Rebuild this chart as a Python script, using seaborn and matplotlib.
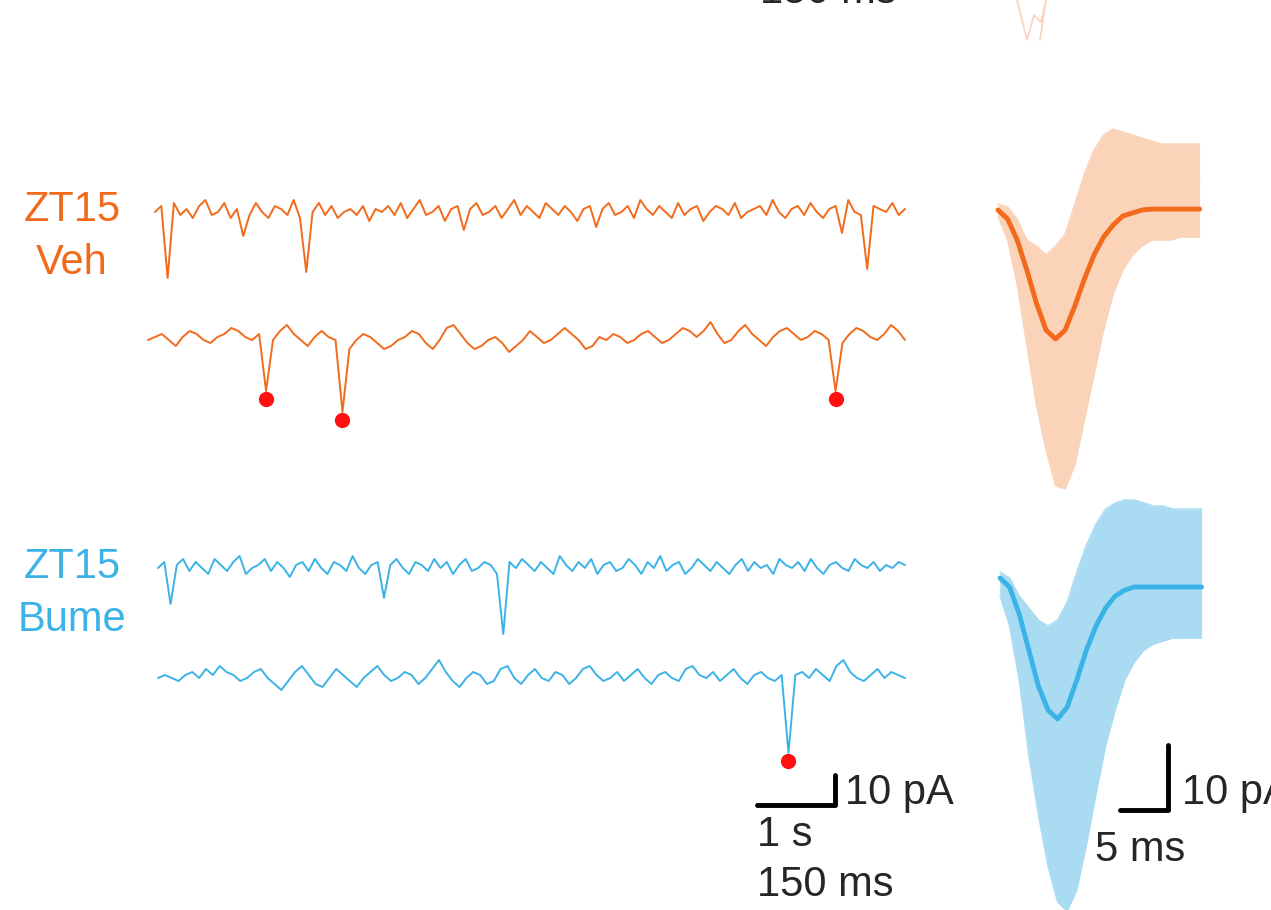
import numpy as np
import pandas as pd
import matplotlib
matplotlib.use("Agg")
import matplotlib.pyplot as plt
import seaborn as sns

sns.set_theme(style="white")
plt.rcParams['font.family'] = ['Arial', 'Liberation Sans', 'DejaVu Sans']

ORANGE = "#F26A1B"
BLUE = "#3BB3E6"
PEACH = "#FAD3B8"
LBLUE = "#A9DBF3"
RED = "#FF1010"

veh_full = [0, 2, -22, 3, -1, 1, -2, 2, 4, -1, 0, 3, -2, 1, -8, -1, 3, 0, -2, 2, 1, -1, 4, -2,
            -20, 0, 3, -1, 2, -2, 0, 1, -1, 2, -3, 1, 0, 2, -1, 3, -2, 1, 4, -1, 0, 2, -3, 1,
            2, -6, 1, 3, -1, 0, 2, -2, 1, 4, -1, 2, 0, -2, 3, 1, -1, 2, 0, -3, 1, 2, -5, 1,
            3, -1, 0, 2, -2, 4, 1, -1, 2, 0, -2, 3, -1, 1, 2, -3, 0, 2, 1, -1, 3, -2, 0, 1,
            2, -1, 4, 0, -2, 1, 2, -1, 3, 0, -2, 1, 2, -7, 4, 0, -1, -19, 2, 1, 0, 3, -1, 1]
veh_zoom = [0, 1, 2, 0, -2, 1, 3, 2, 0, -1, 1, 2, 4, 3, 1, 0, 2, -17, 0, 3, 5, 2, 0, -2,
            1, 3, 1, 0, -24, -3, 0, 2, 1, -1, -3, -2, 0, 1, 3, 2, -1, -3, 0, 4, 5, 2, -1, -3,
            -2, 0, 1, -1, -4, -2, 0, 3, 1, -1, 0, 2, 4, 2, 0, -3, -2, 1, 0, 2, 1, -1, 0, 2,
            3, 1, -1, 0, 2, 4, 3, 1, 3, 6, 2, -1, 0, 3, 5, 2, 0, -2, 1, 3, 4, 2, 0, 1,
            3, 2, 0, -17, -1, 2, 4, 3, 1, 0, 2, 5, 3, 0]
bume_full = [0, 2, -12, 1, 3, -1, 2, 0, -2, 3, 1, -1, 2, 4, -2, 0, 1, 3, -1, 2, 0, -3, 1, 2,
             -1, 3, 0, -2, 2, 1, -1, 4, 0, -2, 1, 2, -10, 1, 3, 0, -2, 2, 1, -1, 3, 0, 2, -2,
             1, 3, -1, 0, 2, 1, -2, -22, 2, 0, 3, 1, -1, 2, 0, -2, 4, 1, -1, 2, 0, 3, -2, 1,
             2, -1, 0, 3, 1, -2, 2, 0, 4, -1, 1, 2, -2, 0, 3, 1, -1, 2, 0, -2, 1, 3, -1, 2,
             0, 1, -2, 3, 1, 0, 2, -1, 3, 0, -2, 1, 2, 0, -1, 3, 1, 0, 2, -1, 1, 0, 2, 1]
bume_zoom = [0, 1, 0, -1, 1, 2, 0, 3, 1, 4, 2, 1, -1, 0, 2, 3, 0, -2, -4, -1, 2, 4, 1, -2,
             -3, 0, 3, 1, -1, -3, 0, 2, 4, 1, -1, 0, 2, 1, -2, 0, 3, 6, 2, -1, -3, 0, 2, 1,
             -2, -1, 3, 4, 0, -2, 1, 3, 0, -1, 2, 1, -2, 0, 3, 4, 1, -1, 0, 2, -1, 1, 3, 0,
             -2, 1, 2, 0, -1, 3, 4, 1, 0, 2, -1, 1, 3, 0, -2, 1, 2, 0, -1, 1, -25, 1, 2, 0,
             3, 1, -1, 4, 6, 2, 0, -1, 1, 3, 0, 2, 1, 0]

# averaged waveforms (pA) and envelope of single events, 1 ms steps
wf_t = list(range(22))
veh_mean = [0, -3, -10, -20, -31, -40, -43, -40, -32, -23, -15, -9, -5, -2, -1, 0, 0.3, 0.3, 0.3, 0.3, 0.3, 0.3]
veh_lo = [-2, -10, -25, -45, -65, -80, -92, -93, -85, -70, -55, -40, -28, -20, -15, -12, -10, -10, -10, -9, -9, -9]
veh_hi = [2, 1, -3, -10, -12, -15, -12, -8, 2, 12, 20, 25, 27, 26, 25, 24, 23, 22, 22, 22, 22, 22]
bume_mean = [4, 1, -8, -20, -32, -40, -43, -39, -30, -20, -12, -6, -2, 0, 1, 1, 1, 1, 1, 1, 1, 1]
bume_lo = [-2, -12, -30, -55, -75, -92, -104, -107, -100, -85, -68, -52, -40, -30, -24, -20, -18, -17, -16, -16, -16, -16]
bume_hi = [6, 4, -2, -6, -10, -12, -10, -4, 6, 15, 22, 27, 29, 30, 30, 29, 28, 28, 27, 27, 27, 27]

fig = plt.figure(figsize=(12.71, 9.10), dpi=100)
ax = fig.add_axes([0, 0, 1, 1])
ax.set_xlim(0, 1271)
ax.set_ylim(910, 0)
ax.axis("off")

PX = 3.0  # px per pA
FS = 30


def trace(vals, x0, x1, y0, color, dots=None):
    x = np.linspace(x0, x1, len(vals))
    y = y0 - np.array(vals) * PX
    sns.lineplot(x=x, y=y, ax=ax, color=color, lw=1.4, sort=False, estimator=None)
    if dots:
        for i in dots:
            ax.scatter(x[i], y[i] + 8, s=120, color=RED, zorder=5, lw=0)


def waveform(mean, lo, hi, x0, y0, color, light):
    x = x0 + np.array(wf_t) * 9.6
    ax.fill_between(x, y0 - np.array(lo) * PX, y0 - np.array(hi) * PX, color=light, lw=0)
    for off in (0.0, 0.3, 0.6, 1.0):
        e = np.array(lo) * (1 - off) + np.array(hi) * off
        sns.lineplot(x=x, y=y0 - e * PX, ax=ax, color=light, lw=1, sort=False, estimator=None)
    sns.lineplot(x=x, y=y0 - np.array(mean) * PX, ax=ax, color=color, lw=3.5, sort=False, estimator=None)


trace(veh_full, 155, 905, 212, ORANGE)
trace(veh_zoom, 148, 905, 340, ORANGE, dots=[17, 28, 99])
trace(bume_full, 158, 905, 568, BLUE)
trace(bume_zoom, 158, 905, 678, BLUE, dots=[92])

waveform(veh_mean, veh_lo, veh_hi, 998, 210, ORANGE, PEACH)
waveform(bume_mean, bume_lo, bume_hi, 1000, 590, BLUE, LBLUE)
ax.fill_between([1205, 1271], 0, 910, color="white", zorder=4)

# partial panel above
ax.plot([1017, 1027, 1034, 1041, 1046, 1040], [0, 40, 15, 22, 0, 40], color=PEACH, lw=1.2)
ax.text(760, -8, "150 ms", fontsize=FS, va="center", ha="left")

ax.text(72, 210, "ZT15", color=ORANGE, fontsize=FS, ha="center", va="center")
ax.text(72, 263, "Veh", color=ORANGE, fontsize=FS, ha="center", va="center")
ax.text(72, 567, "ZT15", color=BLUE, fontsize=FS, ha="center", va="center")
ax.text(72, 620, "Bume", color=BLUE, fontsize=FS, ha="center", va="center")

# scale bars
ax.plot([757, 835, 835], [805, 805, 775], color="black", lw=3.5, zorder=6)
ax.text(845, 793, "10 pA", fontsize=FS, va="center")
ax.text(757, 835, "1 s", fontsize=FS, va="center")
ax.text(757, 885, "150 ms", fontsize=FS, va="center")
ax.plot([1120, 1168, 1168], [810, 810, 745], color="black", lw=3.5, zorder=6)
ax.text(1182, 793, "10 pA", fontsize=FS, va="center", zorder=7, clip_on=False)
ax.text(1095, 850, "5 ms", fontsize=FS, va="center", zorder=7)

fig.savefig("out.png", dpi=100)
